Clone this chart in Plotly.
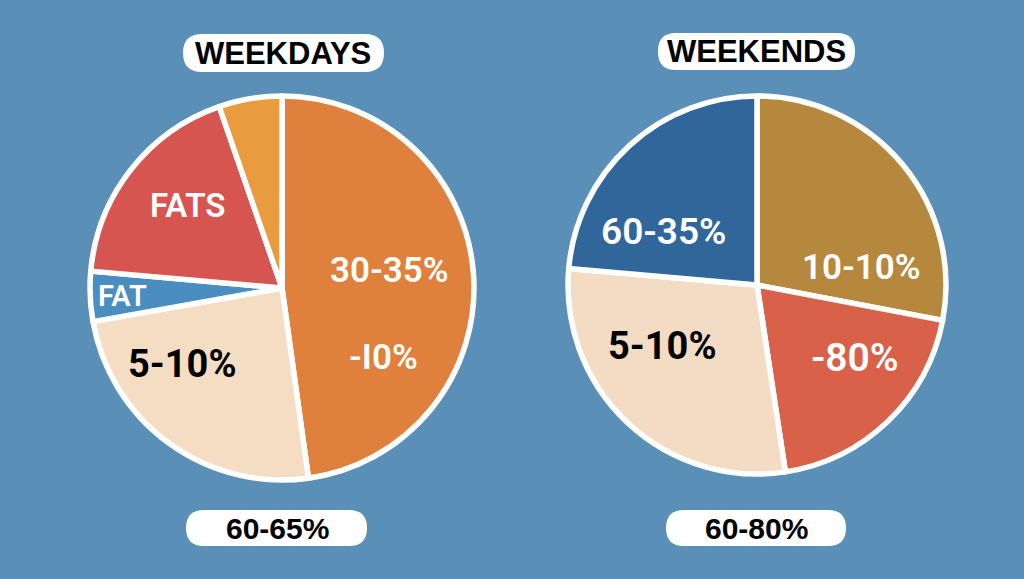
import plotly.graph_objects as go

W, H = 1024, 579

# ---- data ----
weekday_labels = ["Carbs", "Protein", "Fat", "Fats", "Other"]
weekday_values = [47.8, 24.4, 4.2, 18.3, 5.3]
weekday_colors = ["#df803c", "#f4ddc3", "#4a8dc0", "#d65550", "#e89b3f"]

weekend_labels = ["Carbs", "Fats", "Protein", "Other"]
weekend_values = [28.0, 19.6, 28.8, 23.6]
weekend_colors = ["#b5883e", "#d9614a", "#f3dcc3", "#306699"]

titles = ["WEEKDAYS", "WEEKENDS"]
footers = ["60-65%", "60-80%"]

weekday_text = [("30-35%", 389, 270, "white", 35, 600),
                ("-I0%", 383, 357, "white", 35, 600),
                ("FATS", 187, 205, "white", 33, 600),
                ("FAT", 122, 296, "white", 29, 600),
                ("5-10%", 182, 364, "black", 38, 700)]
weekend_text = [("60-35%", 663, 232, "white", 37, 600),
                ("10-10%", 861, 268, "white", 35, 600),
                ("-80%", 855, 358, "white", 39, 600),
                ("5-10%", 662, 346, "black", 38, 700)]

BG = "#5a8fb7"


def px_x(x):
    return x / W


def px_y(y):
    return 1 - y / H


def pie_domain(cx, cy, r):
    return dict(x=[px_x(cx - r), px_x(cx + r)], y=[px_y(cy + r), px_y(cy - r)])


fig = go.Figure()
fig.add_trace(go.Pie(labels=weekday_labels, values=weekday_values, sort=False,
                     direction="clockwise", rotation=0,
                     marker=dict(colors=weekday_colors, line=dict(color="white", width=5.5)),
                     textinfo="none", hoverinfo="label+percent",
                     domain=pie_domain(282, 288, 192), showlegend=False))
fig.add_trace(go.Pie(labels=weekend_labels, values=weekend_values, sort=False,
                     direction="clockwise", rotation=0,
                     marker=dict(colors=weekend_colors, line=dict(color="white", width=5.5)),
                     textinfo="none", hoverinfo="label+percent",
                     domain=pie_domain(757, 285, 189), showlegend=False))


def rounded_rect(x0, y0, x1, y1, r):
    def P(x, y):
        return f"{px_x(x):.5f},{px_y(y):.5f}"
    path = (f"M {P(x0 + r, y0)} L {P(x1 - r, y0)} Q {P(x1, y0)} {P(x1, y0 + r)} "
            f"L {P(x1, y1 - r)} Q {P(x1, y1)} {P(x1 - r, y1)} "
            f"L {P(x0 + r, y1)} Q {P(x0, y1)} {P(x0, y1 - r)} "
            f"L {P(x0, y0 + r)} Q {P(x0, y0)} {P(x0 + r, y0)} Z")
    return dict(type="path", xref="paper", yref="paper", path=path,
                fillcolor="white", line=dict(width=0), layer="above")


shapes = [
    rounded_rect(183, 34, 384, 72, 19),
    rounded_rect(658, 33, 855, 70, 18),
    rounded_rect(186, 510, 367, 546, 18),
    rounded_rect(666, 510, 846, 546, 18),
]


def ann(text, x, y, size, color, family, weight):
    return dict(text=text, x=px_x(x), y=px_y(y), xref="paper", yref="paper",
                xanchor="center", yanchor="middle", showarrow=False,
                font=dict(family=family, size=size, color=color, weight=weight))


annotations = []
for t, (x, y) in zip(titles, [(283, 53), (756, 52)]):
    annotations.append(ann(t, x, y, 31, "black", "Liberation Sans", 900))
for t, (x, y) in zip(footers, [(277, 528), (756, 528)]):
    annotations.append(ann(t, x, y, 30, "black", "Liberation Sans", 700))
for (t, x, y, c, s, w) in weekday_text + weekend_text:
    annotations.append(ann(t, x, y, s, c, "Roboto", w))

fig.update_layout(width=W, height=H, margin=dict(l=0, r=0, t=0, b=0),
                  paper_bgcolor=BG, plot_bgcolor=BG, shapes=shapes, annotations=annotations)

fig.write_html("out.html")
